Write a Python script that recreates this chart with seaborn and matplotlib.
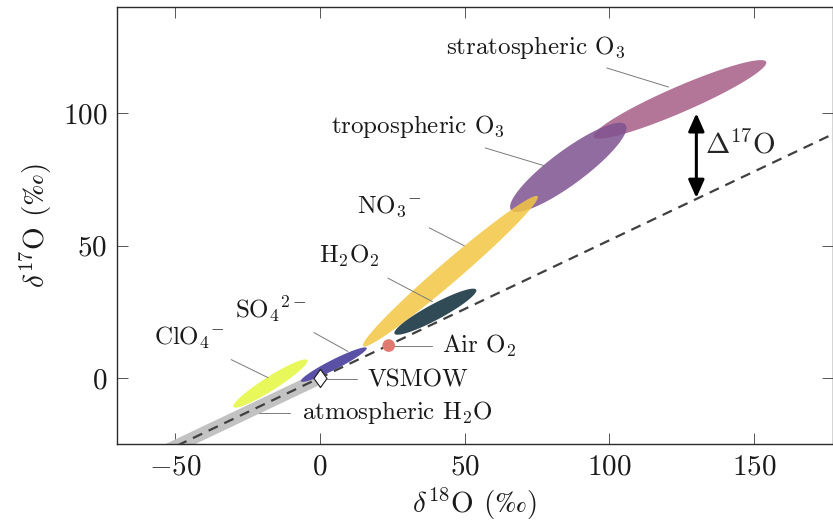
import numpy as np
import matplotlib
matplotlib.use("Agg")
import matplotlib.pyplot as plt
from matplotlib.path import Path
import seaborn as sns

# ---------------- data ----------------
# ellipses: major-axis tips (d18O, d17O) and vertical half-thickness (permil)
ell_names = ["stratospheric", "tropospheric", "NO3", "H2O2", "SO4", "ClO4"]
ell_x1 = [94.6, 66.0, 15.0, 25.8, -6.5, -29.8]
ell_y1 = [91.1, 63.5, 12.0, 16.7, -1.3, -11.0]
ell_x2 = [154.1, 105.6, 75.2, 54.0, 16.2, -4.3]
ell_y2 = [119.4, 95.6, 68.6, 33.3, 11.3, 6.7]
ell_h = [5.3, 8.0, 5.2, 3.4, 2.1, 3.1]

# mass-dependent fractionation line (slope 0.52)
mdf_x = [-60.0, 180.0]
mdf_y = [-31.2, 93.6]
# atmospheric water band
h2o_x = [-60.0, 0.0]
h2o_y = [-31.2, 0.0]
# points
air_x, air_y = [23.8], [12.2]
vsmow_x, vsmow_y = [0.0], [0.0]
# Delta17O arrow
d17_x = 130.0
d17_lo, d17_hi = 68.0, 100.0

xticks = [-50, 0, 50, 100, 150]
yticks = [0, 50, 100]

labels = ["stratospheric O$_3$", "tropospheric O$_3$", "NO$_3{}^{-}$",
          "H$_2$O$_2$", "SO$_4{}^{2-}$", "ClO$_4{}^{-}$", "Air O$_2$",
          "VSMOW", "atmospheric H$_2$O"]

# ---------------- style ----------------
sns.set_theme(style="ticks")
plt.rcParams["font.family"] = ["cmr10", "DejaVu Serif"]
plt.rcParams["mathtext.fontset"] = "cm"
plt.rcParams["axes.formatter.use_mathtext"] = True
plt.rcParams["axes.unicode_minus"] = True

ell_colors = ["#a75e86", "#7e528f", "#f4c644", "#304b55", "#5a50a5", "#e8f85a"]
ell_alpha = [0.85, 0.85, 0.85, 1.0, 1.0, 1.0]

W, H = 833, 531
fig = plt.figure(figsize=(W / 100, H / 100), dpi=100)
ax = fig.add_axes([117 / W, 1 - 444 / H, (832.5 - 117) / W, (444 - 7.4) / H])
ax.set_xlim(-70, 177)
ax.set_ylim(-25, 140)

# atmospheric water band
sns.lineplot(x=h2o_x, y=h2o_y, ax=ax, color="#c2c2c2", lw=9.2,
             solid_capstyle="butt", zorder=1)

# ellipses built in display space, mapped back to data space
trans = ax.transData
inv = trans.inverted()
t = np.linspace(0, 2 * np.pi, 240)
for i in range(len(ell_names)):
    p1 = trans.transform((ell_x1[i], ell_y1[i]))
    p2 = trans.transform((ell_x2[i], ell_y2[i]))
    c = (p1 + p2) / 2
    a = (p2 - p1) / 2
    u = a / np.linalg.norm(a)
    n = np.array([-u[1], u[0]])
    hpx = trans.transform((0, ell_h[i]))[1] - trans.transform((0, 0))[1]
    b = hpx * abs(u[0])
    pts = c[None, :] + np.cos(t)[:, None] * a[None, :] + np.sin(t)[:, None] * (b * n)[None, :]
    dpts = inv.transform(pts)
    ax.fill(dpts[:, 0], dpts[:, 1], color=ell_colors[i], alpha=ell_alpha[i], lw=0, zorder=2)

# MDF dashed line
sns.lineplot(x=mdf_x, y=mdf_y, ax=ax, color="#404040", lw=1.6,
             linestyle=(0, (4.6, 3.2)), zorder=4)

# leader lines (layout)
leaders = [((99.1, 117.1), (120.4, 109.9)),
           ((57.1, 86.9), (77.7, 80.1)),
           ((37.8, 56.7), (49.9, 49.9)),
           ((23.5, 37.7), (38.9, 28.8)),
           ((-2.0, 17.1), (9.7, 10.0)),
           ((-30.6, 6.9), (-17.9, 0.1)),
           ((25.1, 12.2), (38.9, 12.2)),
           ((2.4, -0.3), (12.7, -0.3)),
           ((-21.0, -13.1), (-10.3, -13.1))]
for (xa, ya), (xb, yb) in leaders:
    ax.plot([xa, xb], [ya, yb], color="#7a7a7a", lw=0.7, zorder=3)

# label texts (layout)
text_pos = [(74.6, 122.4, "center"), (33.7, 92.7, "center"), (24.1, 62.4, "center"),
            (10.3, 43.6, "center"), (-16.9, 22.6, "center"), (-44.9, 12.4, "center"),
            (42.3, 9.4, "left"), (16.6, -3.2, "left"), (-6.3, -15.5, "left")]
for (tx, ty, ha), lab in zip(text_pos, labels):
    ax.text(tx, ty, lab, ha=ha, va="baseline", fontsize=18, color="#1a1a1a", zorder=6)

# points
sns.scatterplot(x=air_x, y=air_y, ax=ax, s=83, color="#e07a70", edgecolor="none",
                zorder=5)
diamond = Path([(0, 1), (0.72, 0), (0, -1), (-0.72, 0), (0, 1)],
               [Path.MOVETO, Path.LINETO, Path.LINETO, Path.LINETO, Path.CLOSEPOLY])
sns.scatterplot(x=vsmow_x, y=vsmow_y, ax=ax, s=170, marker=diamond, color="white",
                edgecolor="#1a1a1a", linewidth=0.8, zorder=6)

# Delta17O arrow
ax.annotate("", xy=(d17_x, d17_lo), xytext=(d17_x, d17_hi),
            arrowprops=dict(arrowstyle="<|-|>,head_length=0.9,head_width=0.4",
                            lw=2.2, color="black", shrinkA=0, shrinkB=0), zorder=6)
ax.text(133.0, 84.9, r"$\Delta^{17}$O", fontsize=21, ha="left", va="baseline", zorder=6)

# axes styling
ax.set_xticks(xticks)
ax.set_yticks(yticks)
for s in ax.spines.values():
    s.set_visible(True)
    s.set_color("#2a2a2a")
    s.set_linewidth(1.0)
ax.tick_params(direction="in", length=8, width=0.7, color="#555555",
               top=True, right=True, labelsize=21, pad=7, labelcolor="#1a1a1a")
ax.grid(False)
ax.set_facecolor("white")
ax.set_xlabel(r"$\delta^{18}$O ($\mathrm{‰}$)", fontsize=21, color="#1a1a1a", labelpad=4)
ax.set_ylabel(r"$\delta^{17}$O ($\mathrm{‰}$)", fontsize=21, color="#1a1a1a", labelpad=6)

fig.savefig("out.png", dpi=100, facecolor="white")
